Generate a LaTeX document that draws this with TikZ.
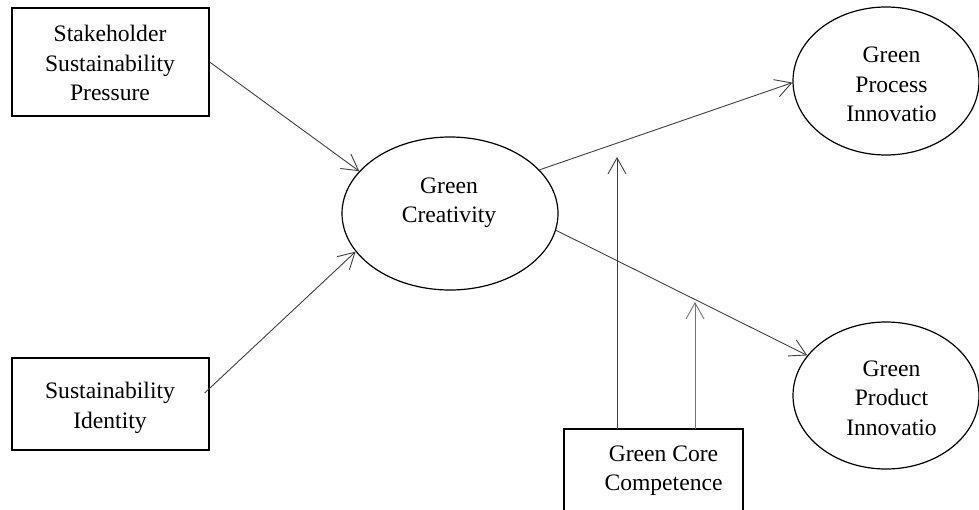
\documentclass[tikz,border=0pt]{standalone}
\usepackage{fontspec}
\setmainfont{Liberation Serif}
\usetikzlibrary{arrows.meta,shapes.geometric}
\begin{document}
\begin{tikzpicture}[x=1pt,y=-1pt,
  box/.style={draw=black,line width=1.2pt,rectangle,inner sep=0pt},
  oval/.style={draw=black,line width=1.2pt,ellipse,inner sep=0pt},
  lbl/.style={align=center,inner sep=0pt,font=\fontsize{23.6}{29.5}\selectfont},
  conn/.style={draw=black!75,line width=0.9pt,-{Straight Barb[length=16pt,width=18pt,line width=0.9pt]}}
]
\useasboundingbox (0,0) rectangle (979,509);
% shapes
\node[box,minimum width=197pt,minimum height=108pt] (b1) at (110.5,62) {};
\node[box,minimum width=197pt,minimum height=92pt] (b2) at (110.5,404) {};
\node[box,minimum width=179pt,minimum height=91pt] (core) at (653.5,474.5) {};
\node[oval,minimum width=216pt,minimum height=153pt] (cr) at (450,213.5) {};
\node[oval,minimum width=186pt,minimum height=148pt] (pr) at (886,81) {};
\node[oval,minimum width=186pt,minimum height=147pt] (pd) at (886,395.5) {};
% labels
\node[lbl] (t1) at (110,63) {Stakeholder\\Sustainability\\Pressure};
\node[lbl] (t2) at (110,408) {Sustainability\\Identity};
\node[lbl] (t3) at (663.5,470.5) {Green Core\\Competence};
\node[lbl] (t4) at (449,202.5) {Green\\Creativity};
\node[lbl] (t5) at (891.5,84.5) {Green\\Process\\Innovatio};
\node[lbl] (t6) at (891.5,398) {Green\\Product\\Innovatio};
% connectors
\coordinate (m1) at (617,157);
\coordinate (m2) at (695,302);
\coordinate (c1) at (617,429);
\coordinate (c2) at (695,429);
\draw[conn] (b1.east) -- (cr.155);
\draw[conn] ([shift={(-5,-11)}]b2.east) -- (cr.202);
\draw[conn] (cr.26) -- (pr.181);
\draw[conn] (cr.351) -- (pd.153);
\draw[conn] (c1) -- (m1);
\draw[conn,draw=black!55] (c2) -- (m2);
\end{tikzpicture}
\end{document}
